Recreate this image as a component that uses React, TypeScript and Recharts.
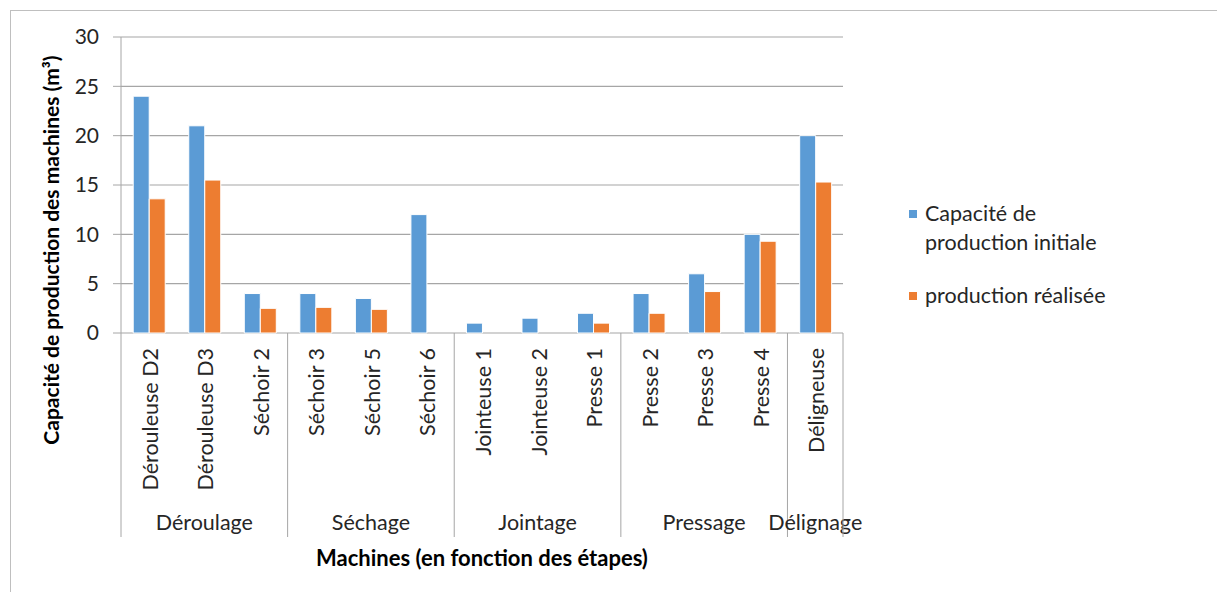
import React from "react";
import { BarChart, Bar, XAxis, YAxis, CartesianGrid, Legend } from "recharts";

// Machines, in the order of the production steps
const machines = [
  "Dérouleuse D2",
  "Dérouleuse D3",
  "Séchoir 2",
  "Séchoir 3",
  "Séchoir 5",
  "Séchoir 6",
  "Jointeuse 1",
  "Jointeuse 2",
  "Presse 1",
  "Presse 2",
  "Presse 3",
  "Presse 4",
  "Déligneuse",
];

// Production steps and how many machines each one covers
const etapes = ["Déroulage", "Séchage", "Jointage", "Pressage", "Délignage"];
const machinesParEtape = [3, 3, 3, 3, 1];

// Capacities in m³
const capaciteInitiale = [24, 21, 4, 4, 3.5, 12, 1, 1.5, 2, 4, 6, 10, 20];
const productionRealisee = [13.6, 15.5, 2.5, 2.6, 2.4, 0, 0, 0, 1, 2, 4.2, 9.3, 15.3];

const yTicks = [0, 5, 10, 15, 20, 25, 30];

const data = machines.map((machine, i) => ({
  machine,
  initiale: capaciteInitiale[i],
  realisee: productionRealisee[i],
}));

const WIDTH = 1217;
const HEIGHT = 592;
const MARGIN = { top: 37, right: 374, bottom: 0, left: 41 };
const Y_AXIS_WIDTH = 80;
const X_AXIS_HEIGHT = 259;
const PLOT_LEFT = MARGIN.left + Y_AXIS_WIDTH;
const PLOT_WIDTH = WIDTH - PLOT_LEFT - MARGIN.right;
const PLOT_BOTTOM = HEIGHT - MARGIN.bottom - X_AXIS_HEIGHT;
const BAND = PLOT_WIDTH / machines.length;

const FONT = "Lato, 'Open Sans', sans-serif";
const TEXT = "#262626";
const GRID = "#a6a6a6";
const LABEL_SIZE = 21.5;
const TITLE_SIZE = 21;

// first machine index of every step
const debuts = machinesParEtape.map((_, g) =>
  machinesParEtape.slice(0, g).reduce((a, b) => a + b, 0)
);

const MachineTick = (props: any) => {
  const { x, payload } = props;
  const index = payload.index;
  const g = debuts.findIndex((d, k) => index >= d && index < d + machinesParEtape[k]);
  const isFirst = debuts[g] === index;
  const isLast = index === machines.length - 1;
  const centre = x + ((machinesParEtape[g] - 1) / 2) * BAND;
  const sepBottom = PLOT_BOTTOM + 204;

  return (
    <g>
      <text
        transform={`translate(${x + 1},${PLOT_BOTTOM + 15}) rotate(-90)`}
        textAnchor="end"
        dominantBaseline="central"
        fontFamily={FONT}
        fontSize={LABEL_SIZE}
        fill={TEXT}
      >
        {payload.value}
      </text>
      {isFirst && (
        <>
          <line
            x1={x - BAND / 2}
            x2={x - BAND / 2}
            y1={PLOT_BOTTOM}
            y2={sepBottom}
            stroke={GRID}
          />
          <text
            x={centre}
            y={PLOT_BOTTOM + 189}
            textAnchor="middle"
            dominantBaseline="central"
            fontFamily={FONT}
            fontSize={LABEL_SIZE}
            fill={TEXT}
          >
            {etapes[g]}
          </text>
        </>
      )}
      {isLast && (
        <line
          x1={x + BAND / 2}
          x2={x + BAND / 2}
          y1={PLOT_BOTTOM}
          y2={sepBottom}
          stroke={GRID}
        />
      )}
    </g>
  );
};

const LegendContent = ({ payload }: any) => (
  <div style={{ fontFamily: FONT, fontSize: LABEL_SIZE, color: TEXT, width: 220 }}>
    {(payload || []).map((entry: any, i: number) => (
      <div
        key={`leg-${i}`}
        style={{ display: "flex", alignItems: "flex-start", marginBottom: i === 0 ? 24 : 0 }}
      >
        <span
          style={{
            width: 8,
            height: 8,
            background: entry.color,
            marginTop: 11,
            marginRight: 8,
            flex: "none",
          }}
        />
        <span style={{ lineHeight: "29px", width: 196 }}>{entry.value}</span>
      </div>
    ))}
  </div>
);

export default function App() {
  return (
    <div
      style={{
        position: "absolute",
        left: 0,
        top: 0,
        width: WIDTH,
        height: HEIGHT,
        overflow: "hidden",
        background: "#fff",
      }}
    >
      <div
        style={{
          position: "absolute",
          left: 10,
          top: 10,
          width: 1206,
          height: 620,
          border: "1px solid #bfbfbf",
        }}
      />
      <BarChart
        width={WIDTH}
        height={HEIGHT}
        data={data}
        margin={MARGIN}
        barCategoryGap="22%"
        barGap={0}
        style={{ position: "absolute", left: 0, top: 0 }}
      >
        <CartesianGrid vertical={false} stroke={GRID} strokeWidth={1.2} />
        <YAxis
          width={Y_AXIS_WIDTH}
          domain={[0, 30]}
          ticks={yTicks}
          interval={0}
          axisLine={{ stroke: GRID }}
          tickLine={{ stroke: GRID }}
          tickSize={8}
          tickMargin={14}
          tick={{ fontFamily: FONT, fontSize: 21, fill: TEXT }}
          label={{
            content: () => (
              <text
                transform="translate(50,250) rotate(-90)"
                textAnchor="middle"
                dominantBaseline="central"
                fontFamily={FONT}
                fontSize={TITLE_SIZE}
                fontWeight="bold"
                fill="#000"
              >
                Capacité de production des machines (m³)
              </text>
            ),
          }}
        />
        <XAxis
          dataKey="machine"
          height={X_AXIS_HEIGHT}
          interval={0}
          axisLine={false}
          tickLine={false}
          tick={<MachineTick />}
          label={{
            content: () => (
              <text
                x={PLOT_LEFT + PLOT_WIDTH / 2}
                y={557}
                textAnchor="middle"
                dominantBaseline="central"
                fontFamily={FONT}
                fontSize={TITLE_SIZE + 1}
                fontWeight="bold"
                fill="#000"
              >
                Machines (en fonction des étapes)
              </text>
            ),
          }}
        />
        <Legend
          layout="vertical"
          align="center"
          verticalAlign="middle"
          wrapperStyle={{ left: 909, top: 199, width: 230 }}
          content={<LegendContent />}
        />
        <Bar
          dataKey="initiale"
          name="Capacité de production initiale"
          fill="#5b9bd5"
          stroke="#ffffff"
          strokeWidth={1}
          isAnimationActive={false}
        />
        <Bar
          dataKey="realisee"
          name="production réalisée"
          fill="#ed7d31"
          stroke="#ffffff"
          strokeWidth={1}
          isAnimationActive={false}
        />
      </BarChart>
    </div>
  );
}
